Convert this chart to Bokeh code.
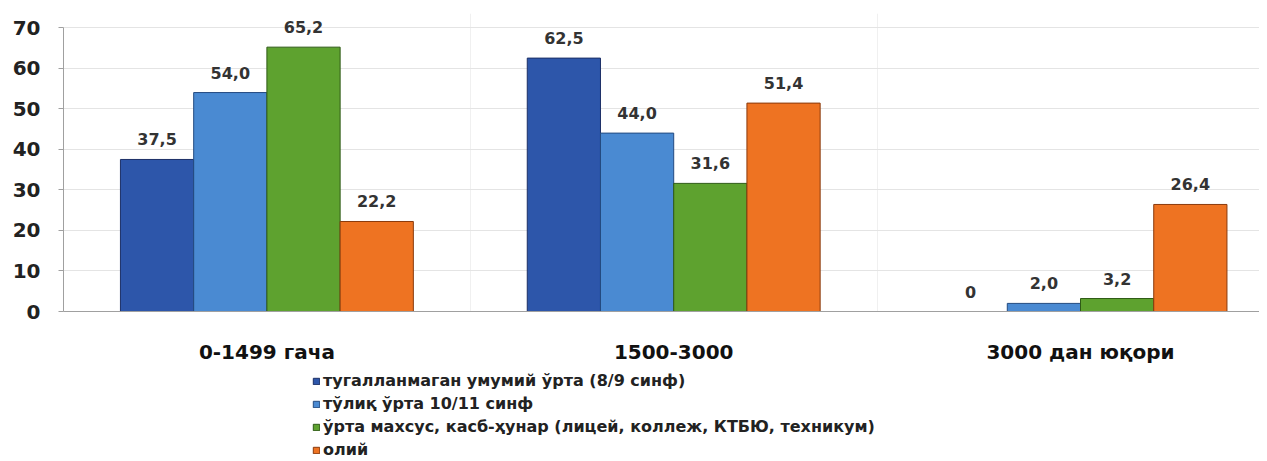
from bokeh.plotting import figure
from bokeh.models import ColumnDataSource, Range1d, FixedTicker, LabelSet, Legend, LegendItem
from bokeh.layouts import column
from bokeh.core.properties import value
from bokeh.embed import file_html
from bokeh.resources import INLINE

categories = ["0-1499 гача", "1500-3000", "3000 дан юқори"]
series_names = [
    "тугалланмаган умумий ўрта (8/9 синф)",
    "тўлиқ ўрта 10/11 синф",
    "ўрта махсус, касб-ҳунар (лицей, коллеж, КТБЮ, техникум)",
    "олий",
]
incomplete_secondary = [37.5, 62.5, 0.0]
full_secondary = [54.0, 44.0, 2.0]
vocational = [65.2, 31.6, 3.2]
higher = [22.2, 51.4, 26.4]
y_ticks = [0, 10, 20, 30, 40, 50, 60, 70]

series = [incomplete_secondary, full_secondary, vocational, higher]
colors = ["#2d56aa", "#4a8ad2", "#5ea22f", "#ee7322"]
lines = ["#1c2f66", "#234a80", "#2e5a16", "#8a3a0c"]
offsets = [-0.27, -0.09, 0.09, 0.27]
bar_w = 0.18
FONT = "DejaVu Sans"

def fmt(v):
    return "0" if v == 0 else ("%.1f" % v).replace(".", ",")

MAIN_H = 368
p = figure(width=1259, height=MAIN_H, output_backend="svg", toolbar_location=None,
           x_range=Range1d(0, 2.94), y_range=Range1d(0, 73.5),
           min_border_left=63, min_border_right=0, min_border_top=13, min_border_bottom=MAIN_H - 311)
p.outline_line_color = None
p.background_fill_color = "white"

for i, vals in enumerate(series):
    xs = [k + 0.5 + offsets[i] for k in range(len(categories))]
    src = ColumnDataSource(dict(x=xs, top=vals, lab=[fmt(v) for v in vals]))
    p.vbar(x="x", top="top", width=bar_w, source=src, fill_color=colors[i],
           line_color=lines[i], line_width=1)
    p.add_layout(LabelSet(x="x", y="top", text="lab", source=src, text_align="center",
                          text_baseline="bottom", y_offset=14, text_font=value(FONT),
                          text_font_style="bold", text_font_size="16px", text_color="#333333"))

# axes
p.xaxis.ticker = FixedTicker(ticks=[0.5, 1.5, 2.5])
p.xaxis.major_label_overrides = {0.5: categories[0], 1.5: categories[1], 2.5: categories[2]}
p.xaxis.major_tick_line_color = None
p.xaxis.minor_tick_line_color = None
p.xaxis.axis_line_color = "#a0a0a0"
p.xaxis.major_label_text_font = FONT
p.xaxis.major_label_text_font_style = "bold"
p.xaxis.major_label_text_font_size = "20px"
p.xaxis.major_label_text_color = "#111111"
p.xaxis.major_label_standoff = 22

p.yaxis.ticker = FixedTicker(ticks=y_ticks)
p.yaxis.bounds = (0, 70)
p.yaxis.minor_tick_line_color = None
p.yaxis.axis_line_color = "#a0a0a0"
p.yaxis.major_tick_line_color = "#a0a0a0"
p.yaxis.major_tick_in = 0
p.yaxis.major_tick_out = 5
p.yaxis.major_label_text_font = FONT
p.yaxis.major_label_text_font_style = "bold"
p.yaxis.major_label_text_font_size = "20px"
p.yaxis.major_label_text_color = "#222222"
p.yaxis.major_label_standoff = 18

p.ygrid.grid_line_color = "#e4e4e4"
p.xgrid.ticker = FixedTicker(ticks=[1, 2])
p.xgrid.grid_line_color = "#f0f0f0"

# legend figure (frame aligned with the main frame by the column layout)
lf = figure(width=1259, height=93, output_backend="svg", toolbar_location=None,
            x_range=Range1d(0, 1), y_range=Range1d(0, 1),
            x_axis_location=None, y_axis_location=None,
            min_border_left=0, min_border_right=0, min_border_top=0, min_border_bottom=0)
lf.outline_line_color = None
lf.xgrid.visible = False
lf.ygrid.visible = False
items = []
for i in range(4):
    r = lf.vbar(x=[-5], top=[0], width=0.1, fill_color=colors[i], line_color=lines[i], line_width=1)
    items.append(LegendItem(label=series_names[i], renderers=[r], index=0))
legend = Legend(items=items, location=(249, 0), orientation="vertical",
                padding=0, margin=0, spacing=0, label_height=23, glyph_height=8, glyph_width=8,
                label_standoff=3, label_text_font=FONT, label_text_font_style="bold",
                label_text_font_size="16px", label_text_color="#222222",
                border_line_color=None, background_fill_alpha=0)
lf.add_layout(legend, "center")

layout = column(p, lf, spacing=0)
open("out.html", "w").write(file_html(layout, INLINE))
